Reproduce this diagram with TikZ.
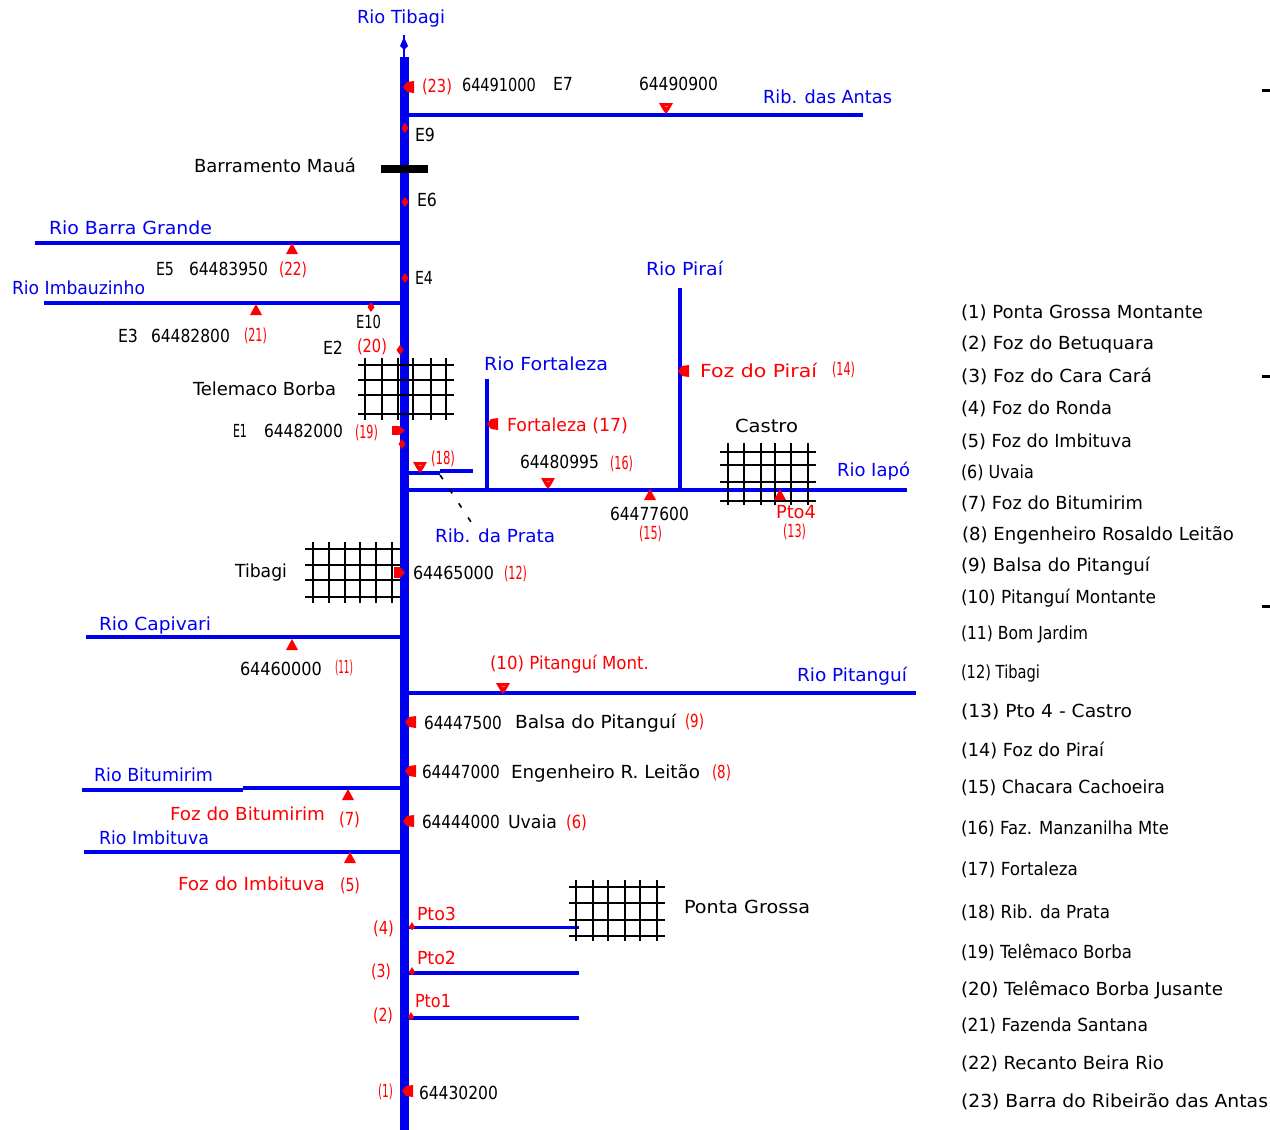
\documentclass[tikz,border=0pt]{standalone}
\usepackage{graphicx}
\usepackage{fontspec}
\setmainfont{DejaVu Sans}
\definecolor{riv}{RGB}{0,0,240}
\definecolor{rd}{RGB}{255,0,0}
\tikzset{
  lab/.style={anchor=base west,inner sep=0pt,outer sep=0pt,font=\fontsize{9}{9}\selectfont},
  river/.style={draw=riv,line width=1.85pt},
  trunk/.style={draw=riv,line width=4.5pt},
  gridln/.style={draw=black,line width=1pt},
  redmk/.style={fill=rd,draw=none}
}
% name, x1, x2, centre y, colour, text
\newcommand\lab[6]{\node[lab,text=#5] (#1) at (#2,#4+6.5) {\resizebox{\dimexpr #3pt/2-#2pt/2\relax}{\height}{#6}};}
\newcommand\mkL[2]{\fill[redmk] (#1-6,#2) -- (#1-2,#2-5) -- (#1+5,#2-6) -- (#1+5,#2+6) -- (#1-2,#2+5) -- cycle;}
\newcommand\mkU[2]{\fill[redmk] (#1,#2-6) -- (#1+6,#2+5) -- (#1-6,#2+5) -- cycle;}
\newcommand\mkD[2]{\fill[redmk] (#1-7,#2-5) -- (#1+7,#2-5) -- (#1+3,#2+2) -- (#1,#2+6) -- (#1-3,#2+2) -- cycle;\fill[rd!55] (#1-1.5,#2-2.5) rectangle (#1+1.5,#2-1);}
\newcommand\mkDot[2]{\fill[redmk] (#1,#2-5) -- (#1+3.5,#2) -- (#1,#2+5) -- (#1-3.5,#2) -- cycle;}
\newcommand\mkS[2]{\fill[redmk] (#1,#2-5) -- (#1+3,#2) -- (#1,#2+3) -- (#1-3,#2) -- cycle;}
\newcommand\cidade[6]{%
  \draw[gridln] (#1,#3) -- (#2,#3) (#1,#4) -- (#2,#4) (#1,#5) -- (#2,#5) (#1,#6) -- (#2,#6);
}
\newcommand\vgrid[8]{\draw[gridln] (#3,#1) -- (#3,#2) (#4,#1) -- (#4,#2) (#5,#1) -- (#5,#2) (#6,#1) -- (#6,#2) (#7,#1) -- (#7,#2) (#8,#1) -- (#8,#2);}
\begin{document}
\begin{tikzpicture}[x=0.5pt,y=-0.5pt]
\useasboundingbox (0,0) rectangle (1270,1130);
% named junctions
\coordinate (top) at (404,57); \coordinate (bot) at (404,1130); \coordinate (head) at (404,35);
\coordinate (jAn) at (404,115); \coordinate (eAn) at (863,115);
\coordinate (jBG) at (404,243); \coordinate (eBG) at (35,243);
\coordinate (jIm) at (404,303); \coordinate (eIm) at (44,303);
\coordinate (jIa) at (404,490); \coordinate (eIa) at (907,490);
\coordinate (jPi) at (680,490); \coordinate (ePi) at (680,288);
\coordinate (jFo) at (487,490); \coordinate (eFo) at (487,379);
\coordinate (jPr) at (404,473); \coordinate (mPr) at (440,473); \coordinate (nPr) at (440,471); \coordinate (ePr) at (473,471);
\coordinate (jCa) at (404,637); \coordinate (eCa) at (86,637);
\coordinate (jPt) at (404,693); \coordinate (ePt) at (916,693);
\coordinate (jBi) at (404,788); \coordinate (mBi) at (243,788); \coordinate (nBi) at (243,790); \coordinate (eBi) at (82,790);
\coordinate (jIb) at (404,852); \coordinate (eIb) at (84,852);
\coordinate (jP3) at (404,927.5); \coordinate (eP3) at (579,927.5);
\coordinate (jP2) at (404,973); \coordinate (eP2) at (579,973);
\coordinate (jP1) at (404,1018); \coordinate (eP1) at (579,1018);
\coordinate (dA) at (440,475); \coordinate (dB) at (475,528);
% rivers
\draw[trunk] (top) -- (bot);
\draw[draw=riv,line width=0.75pt] (head) -- (top);
\fill[riv] (404,37) -- (408,46) -- (404,50) -- (400,46) -- cycle;
\draw[river] (jAn) -- (eAn);
\draw[river] (jBG) -- (eBG);
\draw[river] (jIm) -- (eIm);
\draw[river] (jIa) -- (eIa);
\draw[draw=riv,line width=1.7pt] (jPi) -- (ePi);
\draw[draw=riv,line width=1.7pt] (jFo) -- (eFo);
\draw[draw=riv,line width=1.6pt] (jPr) -- (mPr);
\draw[draw=riv,line width=1.6pt] (nPr) -- (ePr);
\draw[river] (jCa) -- (eCa);
\draw[river] (jPt) -- (ePt);
\draw[river] (jBi) -- (mBi);
\draw[river] (nBi) -- (eBi);
\draw[river] (jIb) -- (eIb);
\draw[river] (jP3) -- (eP3);
\draw[river] (jP2) -- (eP2);
\draw[river] (jP1) -- (eP1);
\draw[black,line width=0.8pt,dash pattern=on 2.5pt off 6pt] (dA) -- (dB);
% city grids
\cidade{358}{454}{365}{380}{395}{414}
\vgrid{358}{420}{365}{382}{398}{413}{431}{446}
\cidade{305}{400}{549}{565}{580}{597}
\vgrid{542}{603}{313}{329}{345}{360}{376}{392}
\cidade{720}{816}{452}{465}{482}{501}
\vgrid{443}{505}{728}{744}{761}{775}{791}{808}
\cidade{569}{665}{887}{903}{920}{936}
\vgrid{880}{941}{576}{593}{608}{625}{640}{657}
% dam
\fill[black] (381,165) rectangle (428,173);
% edge ticks
\fill[black] (1262,89) rectangle (1270,92);
\fill[black] (1262,375) rectangle (1270,378);
\fill[black] (1262,605) rectangle (1270,608);
% markers
\mkL{409}{87}\mkDot{405}{128}\mkDot{405}{202}\mkDot{405}{278}\mkDot{400}{350}\mkDot{371}{307}\mkDot{402}{444}
\mkD{666}{108}\mkU{292}{249}\mkU{256}{310}
\mkL{493}{424}\mkL{684}{371}\mkD{548}{483}\mkU{650}{495}\mkU{780}{495}\mkD{420}{467}
\fill[redmk] (392,426) rectangle (399,435); \fill[redmk] (399,426) -- (405,430.5) -- (399,435) -- cycle;
\fill[redmk] (394,567) rectangle (400,578); \fill[redmk] (400,567) -- (405,572.5) -- (400,578) -- cycle;
\mkU{292}{645}\mkD{503}{688}
\mkL{411}{722}\mkL{411}{771}\mkL{409}{821}\mkU{348}{795}\mkU{350}{858}
\mkS{412}{927}\mkS{412}{972}\mkS{411}{1017}\mkL{408}{1091}
% blue labels
\lab{tTib}{357}{445}{17}{riv}{Rio Tibagi}
\lab{tAnt}{763}{892}{97}{riv}{Rib. das Antas}
\lab{tBG}{49}{212}{228}{riv}{Rio Barra Grande}
\lab{tImb}{12}{145}{288}{riv}{Rio Imbauzinho}
\lab{tPir}{646}{723}{269}{riv}{Rio Piraí}
\lab{tFor}{484}{608}{364}{riv}{Rio Fortaleza}
\lab{tIap}{837}{910}{470}{riv}{Rio Iapó}
\lab{tPra}{435}{555}{536}{riv}{Rib. da Prata}
\lab{tCap}{99}{211}{624}{riv}{Rio Capivari}
\lab{tPit}{797}{907}{675}{riv}{Rio Pitanguí}
\lab{tBit}{94}{213}{775}{riv}{Rio Bitumirim}
\lab{tIbt}{99}{209}{838}{riv}{Rio Imbituva}
% black labels
\lab{a1}{462}{536}{85}{black}{64491000}
\lab{a2}{553}{573}{84}{black}{E7}
\lab{a3}{639}{718}{84}{black}{64490900}
\lab{a4}{415}{435}{135}{black}{E9}
\lab{a5}{194}{356}{166}{black}{Barramento Mauá}
\lab{a6}{417}{437}{200}{black}{E6}
\lab{a7}{156}{174}{269}{black}{E5}
\lab{a8}{189}{268}{269}{black}{64483950}
\lab{a9}{415}{433}{278}{black}{E4}
\lab{a10}{356}{381}{322}{black}{E10}
\lab{a11}{118}{138}{336}{black}{E3}
\lab{a12}{151}{230}{336}{black}{64482800}
\lab{a13}{323}{343}{348}{black}{E2}
\lab{a14}{193}{336}{389}{black}{Telemaco Borba}
\lab{a15}{233}{247}{431}{black}{E1}
\lab{a16}{264}{343}{431}{black}{64482000}
\lab{a17}{735}{798}{426}{black}{Castro}
\lab{a18}{520}{599}{462}{black}{64480995}
\lab{a19}{610}{689}{514}{black}{64477600}
\lab{a20}{235}{287}{571}{black}{Tibagi}
\lab{a21}{413}{494}{573}{black}{64465000}
\lab{a22}{240}{322}{669}{black}{64460000}
\lab{a23}{424}{502}{723}{black}{64447500}
\lab{a24}{515}{676}{722}{black}{Balsa do Pitanguí}
\lab{a25}{422}{500}{772}{black}{64447000}
\lab{a26}{511}{700}{772}{black}{Engenheiro R. Leitão}
\lab{a27}{422}{500}{822}{black}{64444000}
\lab{a28}{508}{557}{822}{black}{Uvaia}
\lab{a29}{684}{810}{907}{black}{Ponta Grossa}
\lab{a30}{419}{498}{1093}{black}{64430200}
% red labels
\lab{r1}{422}{452}{86}{rd}{(23)}
\lab{r2}{279}{307}{269}{rd}{(22)}
\lab{r3}{244}{267}{335}{rd}{(21)}
\lab{r4}{357}{387}{346}{rd}{(20)}
\lab{r5}{355}{378}{432}{rd}{(19)}
\lab{r6}{431}{455}{458}{rd}{(18)}
\lab{r7}{507}{628}{425}{rd}{Fortaleza (17)}
\lab{r8}{610}{633}{463}{rd}{(16)}
\lab{r9}{700}{817}{371}{rd}{Foz do Piraí}
\lab{r10}{832}{855}{369}{rd}{(14)}
\lab{r11}{776}{816}{512}{rd}{Pto4}
\lab{r12}{783}{806}{531}{rd}{(13)}
\lab{r13}{639}{662}{533}{rd}{(15)}
\lab{r14}{504}{527}{573}{rd}{(12)}
\lab{r15}{335}{353}{667}{rd}{(11)}
\lab{r16}{490}{649}{663}{rd}{(10) Pitanguí Mont.}
\lab{r17}{685}{704}{721}{rd}{(9)}
\lab{r18}{712}{731}{772}{rd}{(8)}
\lab{r19}{566}{587}{822}{rd}{(6)}
\lab{r20}{170}{325}{814}{rd}{Foz do Bitumirim}
\lab{r21}{339}{360}{819}{rd}{(7)}
\lab{r22}{178}{325}{884}{rd}{Foz do Imbituva}
\lab{r23}{340}{360}{885}{rd}{(5)}
\lab{r24}{417}{456}{914}{rd}{Pto3}
\lab{r25}{373}{394}{928}{rd}{(4)}
\lab{r26}{417}{456}{958}{rd}{Pto2}
\lab{r27}{371}{391}{971}{rd}{(3)}
\lab{r28}{415}{451}{1001}{rd}{Pto1}
\lab{r29}{373}{393}{1015}{rd}{(2)}
\lab{r30}{378}{393}{1091}{rd}{(1)}
% legend
\lab{l1}{961}{1203}{312}{black}{(1) Ponta Grossa Montante}
\lab{l2}{961}{1154}{343}{black}{(2) Foz do Betuquara}
\lab{l3}{961}{1152}{376}{black}{(3) Foz do Cara Cará}
\lab{l4}{961}{1112}{408}{black}{(4) Foz do Ronda}
\lab{l5}{961}{1132}{441}{black}{(5) Foz do Imbituva}
\lab{l6}{961}{1034}{472}{black}{(6) Uvaia}
\lab{l7}{961}{1143}{503}{black}{(7) Foz do Bitumirim}
\lab{l8}{962}{1234}{534}{black}{(8) Engenheiro Rosaldo Leitão}
\lab{l9}{961}{1150}{565}{black}{(9) Balsa do Pitanguí}
\lab{l10}{961}{1156}{597}{black}{(10) Pitanguí Montante}
\lab{l11}{961}{1088}{633}{black}{(11) Bom Jardim}
\lab{l12}{961}{1040}{672}{black}{(12) Tibagi}
\lab{l13}{961}{1132}{711}{black}{(13) Pto 4 - Castro}
\lab{l14}{961}{1104}{750}{black}{(14) Foz do Piraí}
\lab{l15}{961}{1165}{787}{black}{(15) Chacara Cachoeira}
\lab{l16}{961}{1169}{828}{black}{(16) Faz. Manzanilha Mte}
\lab{l17}{961}{1078}{869}{black}{(17) Fortaleza}
\lab{l18}{961}{1110}{912}{black}{(18) Rib. da Prata}
\lab{l19}{961}{1132}{952}{black}{(19) Telêmaco Borba}
\lab{l20}{961}{1223}{989}{black}{(20) Telêmaco Borba Jusante}
\lab{l21}{961}{1148}{1025}{black}{(21) Fazenda Santana}
\lab{l22}{961}{1164}{1063}{black}{(22) Recanto Beira Rio}
\lab{l23}{961}{1268}{1101}{black}{(23) Barra do Ribeirão das Antas}
\end{tikzpicture}
\end{document}
